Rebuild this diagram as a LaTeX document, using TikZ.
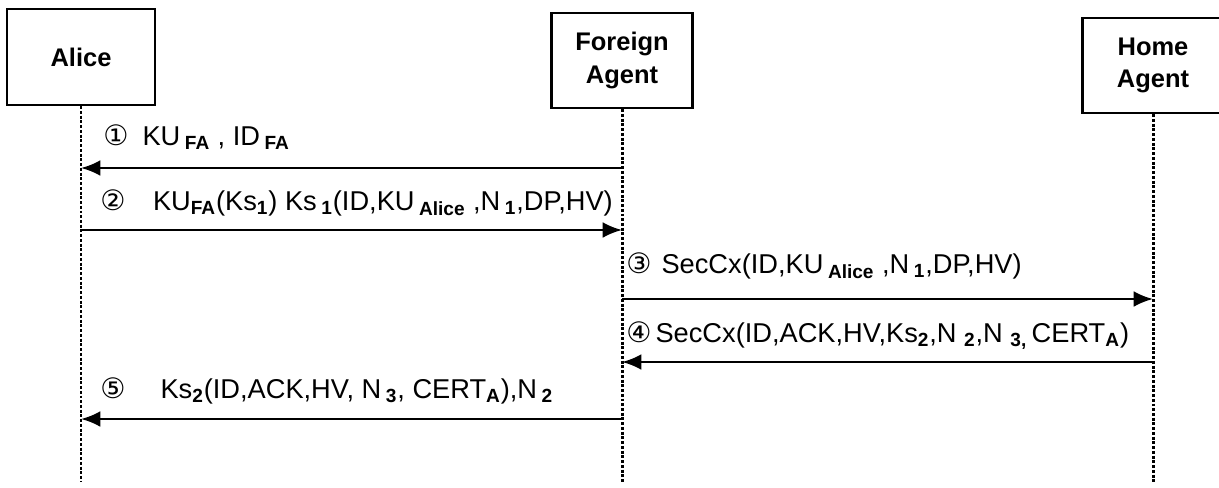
\documentclass[tikz,border=0pt]{standalone}
\usepackage{fontspec}
\setmainfont{Liberation Sans}
\newfontfamily\circfont{DejaVu Sans}
\usetikzlibrary{arrows.meta}

\newcommand{\lo}[1]{\textsubscript{\bfseries #1}}
\newcommand{\cn}[1]{{\circfont\fontsize{16}{16}\selectfont #1}}

\tikzset{
	agent/.style 	= {draw, line width=1.3pt, align=center, inner sep=0pt,
		font=\fontsize{14.5}{18.5}\selectfont\bfseries},
	life/.style 	= {densely dotted, line width=1.7pt},
	msg/.style 		= {-{Latex[length=11pt,width=9pt]}, line width=1.4pt},
	msgtext/.style 	= {anchor=base west, inner sep=0pt,
		font=\fontsize{15.5}{18}\selectfont}
}

\begin{document}
\begin{tikzpicture}[x=0.02cm, y=-0.02cm]
	\useasboundingbox (0,0) rectangle (1219,487);
	
	\node[agent, minimum width=2.96cm, minimum height=1.92cm] (alice) at (81,57) {Alice};
	\node[agent, minimum width=2.82cm, minimum height=1.9cm] (fa) at (622,60.5) {Foreign\\Agent};
	\node[agent, minimum width=2.82cm, minimum height=1.9cm] (ha) at (1153,65.5) {Home\\Agent};
	
	\coordinate (bottom) at (0,482);
	\draw[life] (alice.south) -- (alice |- bottom);
	\draw[life] (fa.south) -- (fa |- bottom);
	\draw[life] (ha.south) -- (ha |- bottom);
	
	\coordinate (m1) at (0,168);
	\coordinate (m2) at (0,230);
	\coordinate (m3) at (0,299);
	\coordinate (m4) at (0,362);
	\coordinate (m5) at (0,419);
	
	\draw[msg] (fa |- m1) -- (alice |- m1);
	\draw[msg] (alice |- m2) -- (fa |- m2);
	\draw[msg] (fa |- m3) -- (ha |- m3);
	\draw[msg] (ha |- m4) -- (fa |- m4);
	\draw[msg] (fa |- m5) -- (alice |- m5);
	
	\node[msgtext] (t1) at (103,145) {\cn{①}\hspace{0.28cm}KU\,\lo{FA} , ID\,\lo{FA}};
	\node[msgtext] (t2) at (100,210) {\cn{②}\hspace{0.55cm}KU\lo{FA}(Ks\lo{1}) Ks\,\lo{1}(ID,KU\,\lo{Alice} ,N\,\lo{1},DP,HV)};
	\node[msgtext] (t3) at (626,273) {\cn{③}\hspace{0.2cm}SecCx(ID,KU\,\lo{Alice} ,N\,\lo{1},DP,HV)};
	\node[msgtext] (t4) at (626,342) {\cn{④}\hspace{0.08cm}SecCx(ID,ACK,HV,Ks\lo{2},N\;\lo{2},N\;\lo{3,}\,CERT\lo{A})};
	\node[msgtext] (t5) at (100,398) {\cn{⑤}\hspace{0.7cm}Ks\lo{2}(ID,ACK,HV, N\,\lo{3}, CERT\lo{A}),N\,\lo{2}};
	
\end{tikzpicture}
\end{document}
